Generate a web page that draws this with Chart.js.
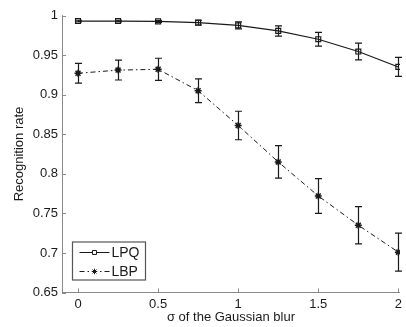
<!DOCTYPE html>
<html>
<head>
<meta charset="utf-8">
<script src="https://cdn.jsdelivr.net/npm/chart.js@4.4.1/dist/chart.umd.min.js"></script>
<style>
html,body{margin:0;padding:0;background:#fff;}
#wrap{width:406px;height:327px;position:relative;}
</style>
</head>
<body>
<div id="wrap"><canvas id="c" width="406" height="327"></canvas></div>
<script>
// ---- data ----
const sigma = [0, 0.25, 0.5, 0.75, 1, 1.25, 1.5, 1.75, 2];
const lpq = [0.993, 0.993, 0.9925, 0.991, 0.9875, 0.9805, 0.970, 0.9545, 0.935];
const lpqErr = [0.001, 0.001, 0.0012, 0.003, 0.0045, 0.0065, 0.0088, 0.0105, 0.012];
const lbp = [0.927, 0.931, 0.932, 0.905, 0.861, 0.815, 0.772, 0.735, 0.701];
const lbpErr = [0.0125, 0.0125, 0.014, 0.015, 0.018, 0.0205, 0.022, 0.0235, 0.024];
const xTicks = [0, 0.5, 1, 1.5, 2];
const yTicks = [0.65, 0.7, 0.75, 0.8, 0.85, 0.9, 0.95, 1];
const seriesNames = ['LPQ', 'LBP'];
const xTitle = 'σ of the Gaussian blur';
const yTitle = 'Recognition rate';

const FONT = '"Liberation Sans", Arial, Helvetica, sans-serif';
const AXIS = '#8a8a8a';
const INK = '#1a1a1a';

function pts(xs, ys) { return xs.map((x, i) => ({x: x, y: ys[i]})); }
function fmt(v) { return String(+(+v).toFixed(2)); }

const errorBars = {
  id: 'errorBars',
  afterDatasetsDraw(chart) {
    const ctx = chart.ctx, ys = chart.scales.y;
    chart.data.datasets.forEach((ds, i) => {
      const meta = chart.getDatasetMeta(i);
      ctx.save();
      ctx.strokeStyle = INK;
      ctx.lineWidth = 1.2;
      meta.data.forEach((pt, j) => {
        const v = ds.data[j].y, e = ds.errors[j];
        const t = ys.getPixelForValue(v + e), b = ys.getPixelForValue(v - e);
        const x = Math.round(pt.x) + 0.5;
        ctx.beginPath();
        ctx.moveTo(x, t); ctx.lineTo(x, b);
        ctx.moveTo(x - 3.5, t); ctx.lineTo(x + 3.5, t);
        ctx.moveTo(x - 3.5, b); ctx.lineTo(x + 3.5, b);
        ctx.stroke();
      });
      ctx.restore();
    });
  }
};

const innerTicks = {
  id: 'innerTicks',
  afterDraw(chart) {
    const ctx = chart.ctx, a = chart.chartArea;
    const xs = chart.scales.x, ys = chart.scales.y;
    ctx.save();
    ctx.strokeStyle = AXIS;
    ctx.lineWidth = 1;
    ctx.beginPath();
    xTicks.forEach(v => {
      const x = Math.round(xs.getPixelForValue(v)) + 0.5;
      ctx.moveTo(x, a.bottom); ctx.lineTo(x, a.bottom - 4);
    });
    yTicks.forEach(v => {
      const y = Math.round(ys.getPixelForValue(v)) + 0.5;
      ctx.moveTo(a.left, y); ctx.lineTo(a.left + 4, y);
    });
    ctx.stroke();
    ctx.restore();
  }
};

const boxLegend = {
  id: 'boxLegend',
  afterDraw(chart) {
    const ctx = chart.ctx, a = chart.chartArea;
    const bx = a.left + 10.5, by = a.bottom - 50.5, bw = 73, bh = 38;
    ctx.save();
    ctx.fillStyle = '#fff';
    ctx.fillRect(bx, by, bw, bh);
    ctx.strokeStyle = '#555';
    ctx.lineWidth = 1.2;
    ctx.strokeRect(bx, by, bw, bh);
    chart.data.datasets.forEach((ds, i) => {
      const y = by + 10.5 + i * 19;
      ctx.strokeStyle = ds.borderColor;
      ctx.lineWidth = 1;
      ctx.setLineDash(ds.borderDash || []);
      ctx.beginPath();
      ctx.moveTo(bx + 7, y); ctx.lineTo(bx + 37, y);
      ctx.stroke();
      ctx.setLineDash([]);
      Chart.helpers.drawPoint(ctx, {
        pointStyle: ds.pointStyle, radius: ds.pointRadius * 0.8,
        borderWidth: 1
      }, bx + 22, y);
      ctx.fillStyle = INK;
      ctx.font = '14px ' + FONT;
      ctx.textBaseline = 'middle';
      ctx.textAlign = 'left';
      ctx.fillText(ds.label, bx + 39, y + 0.5);
    });
    ctx.restore();
  }
};

new Chart(document.getElementById('c'), {
  type: 'line',
  data: {
    datasets: [
      {
        label: seriesNames[0], data: pts(sigma, lpq), errors: lpqErr,
        borderColor: INK, borderWidth: 1.2, pointStyle: 'rect', pointRadius: 3.5,
        pointBorderColor: INK, pointBackgroundColor: 'rgba(0,0,0,0)', pointBorderWidth: 1.2,
        tension: 0, fill: false
      },
      {
        label: seriesNames[1], data: pts(sigma, lbp), errors: lbpErr,
        borderColor: INK, borderWidth: 1, borderDash: [5, 3, 1.5, 3],
        pointStyle: 'star', pointRadius: 3.5,
        pointBorderColor: INK, pointBackgroundColor: INK, pointBorderWidth: 1.5,
        tension: 0, fill: false
      }
    ]
  },
  plugins: [errorBars, innerTicks, boxLegend],
  options: {
    responsive: false,
    animation: false,
    events: [],
    layout: { padding: { top: 15.5, right: 0, left: 0, bottom: 0 } },
    plugins: { legend: { display: false }, tooltip: { enabled: false } },
    scales: {
      x: {
        type: 'linear', min: -0.1, max: 2.01,
        afterBuildTicks: s => { s.ticks = xTicks.map(v => ({value: v})); },
        afterFit: s => { s.height = 34.5; },
        ticks: { callback: v => fmt(v), color: INK, font: { family: FONT, size: 13 }, padding: 4, maxRotation: 0, autoSkip: false },
        grid: { display: true, drawOnChartArea: false, drawTicks: false, color: AXIS },
        border: { display: true, color: AXIS, width: 1 },
        title: { display: true, text: xTitle, color: INK, font: { family: FONT, size: 13 }, padding: { top: 0, bottom: 2 } }
      },
      y: {
        type: 'linear', min: 0.65, max: 1,
        afterBuildTicks: s => { s.ticks = yTicks.map(v => ({value: v})); },
        afterFit: s => { s.width = 62; },
        ticks: { callback: v => fmt(v), color: INK, font: { family: FONT, size: 13 }, padding: 4, autoSkip: false },
        grid: { display: true, drawOnChartArea: false, drawTicks: false, color: AXIS },
        border: { display: true, color: AXIS, width: 1 },
        title: { display: true, text: yTitle, color: INK, font: { family: FONT, size: 13 }, padding: { top: 12, bottom: 0 } }
      }
    }
  }
});
</script>
</body>
</html>
